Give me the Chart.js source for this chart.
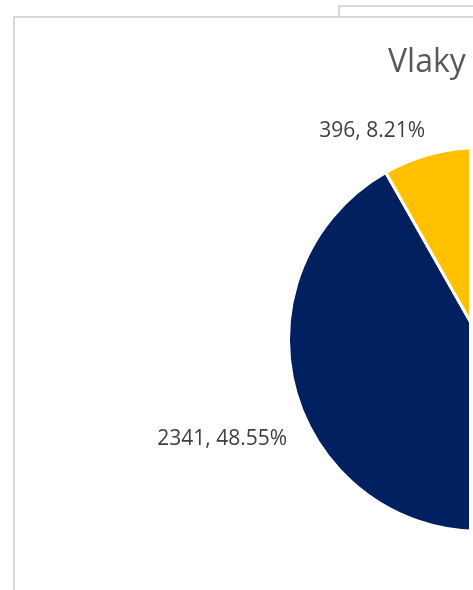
<!DOCTYPE html>
<html>
<head>
<meta charset="utf-8">
<script src="https://cdn.jsdelivr.net/npm/chart.js@4.4.1/dist/chart.umd.min.js"></script>
<style>
html, body { margin:0; padding:0; width:473px; height:590px; overflow:hidden; background:#fff; }
#zadniRam { position:absolute; left:338px; top:5px; width:300px; height:200px; border:2px solid #d9d9d9; background:#fff; }
#ram { position:absolute; left:13px; top:16px; width:600px; height:700px; border:2px solid #d9d9d9; background:#fff; }
#obal { position:absolute; left:15px; top:18px; width:454px; height:572px; overflow:hidden; }
</style>
</head>
<body>
<div id="zadniRam"></div>
<div id="ram"></div>
<div id="obal"><canvas id="myChart" width="931" height="572" style="width:931px;height:572px"></canvas></div>
<script>
// data grafu (prvni vysec je mimo vyrez obrazku)
const titulek = "Vlaky"
const kategorie = ["Ostatní", "Kategorie 2", "Kategorie 3"]
const hodnoty = [2085, 2341, 396]
const barvy = ["#A5A5A5", "#002060", "#FFC000"]

// popisky vysecí "hodnota, procento" a titulek
const popisky = {
    id: "popisky",
    afterDatasetsDraw(chart) {
        const ctx = chart.ctx
        const meta = chart.getDatasetMeta(0)
        const soucet = hodnoty.reduce((a, b) => a + b, 0)
        ctx.save()
        ctx.font = '21px "Open Sans"'
        ctx.fillStyle = "#404040"
        ctx.textBaseline = "alphabetic"
        meta.data.forEach((arc, i) => {
            const p = arc.getProps(["x", "y", "startAngle", "endAngle", "outerRadius"], true)
            const stred = (p.startAngle + p.endAngle) / 2
            const r = p.outerRadius + 25
            const x = p.x + Math.cos(stred) * r
            const y = p.y + Math.sin(stred) * r
            ctx.textAlign = Math.cos(stred) < 0 ? "right" : "left"
            const text = hodnoty[i] + ", " + (hodnoty[i] / soucet * 100).toFixed(2) + "%"
            ctx.fillText(text, x, y + 7.5)
        })
        ctx.font = '32px "Open Sans"'
        ctx.fillStyle = "#595959"
        ctx.textAlign = "left"
        ctx.fillText(titulek, 373, 54)
        ctx.restore()
    }
}

function renderGrafica() {
    const config = {
        type: "pie",
        data: {
            labels: kategorie,
            datasets: [{
                data: hodnoty,
                backgroundColor: barvy,
                borderColor: "#ffffff",
                borderWidth: 3,
                radius: 192
            }]
        },
        options: {
            responsive: false,
            animation: false,
            events: [],
            layout: { padding: { top: 140, bottom: 69, left: 0, right: 0 } },
            plugins: {
                legend: { display: false },
                tooltip: { enabled: false },
                title: { display: false }
            }
        },
        plugins: [popisky]
    }
    const myChart = document.getElementById("myChart")
    new Chart(myChart, config)
}
renderGrafica()
</script>
</body>
</html>
